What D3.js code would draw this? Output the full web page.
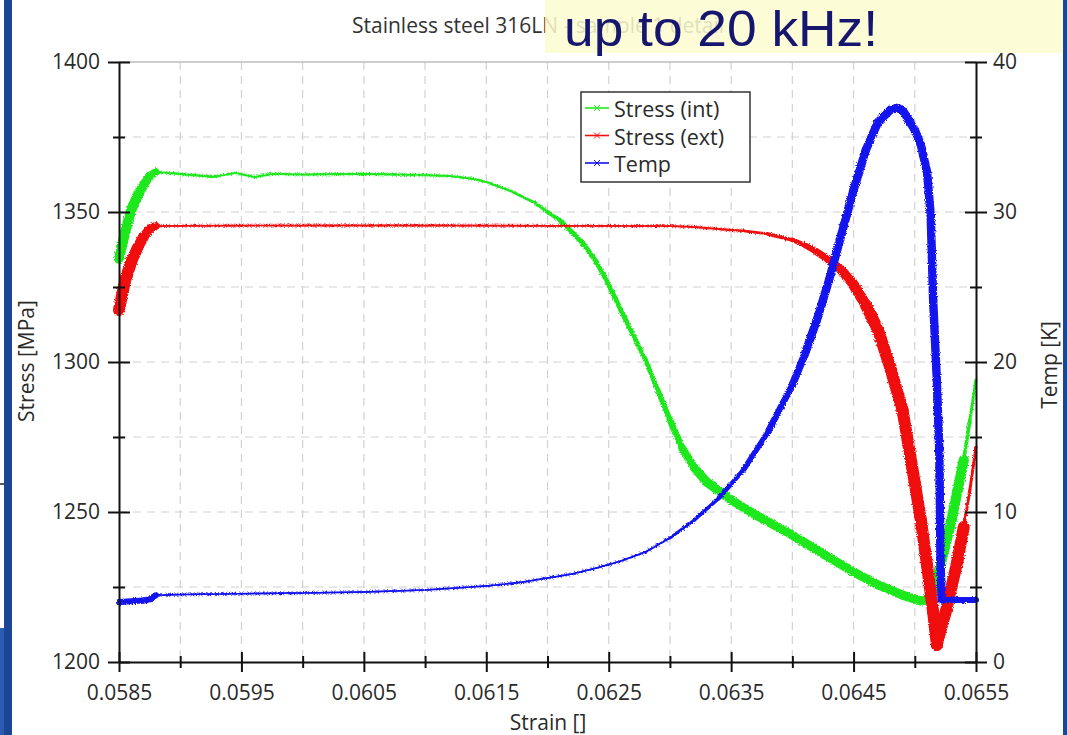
<!DOCTYPE html>
<html><head><meta charset="utf-8">
<script src="https://cdn.jsdelivr.net/npm/d3@7"></script>
<style>
body{margin:0;background:#fff;}
svg{display:block;font-family:'Open Sans','Noto Sans',sans-serif;}
</style>
</head><body>
<svg id="c" width="1067" height="735"></svg>
<script>
// ---------- data ----------
const chartTitle = "Stainless steel 316LN - sample 1 detail";
const banner = "up to 20 kHz!";
const xLabel = "Strain []";
const yLeftLabel = "Stress [MPa]";
const yRightLabel = "Temp [K]";
const seriesNames = ["Stress (int)", "Stress (ext)", "Temp"];

const xMajorTicks = [0.0585, 0.0595, 0.0605, 0.0615, 0.0625, 0.0635, 0.0645, 0.0655];
const xTickLabels = ["0.0585", "0.0595", "0.0605", "0.0615", "0.0625", "0.0635", "0.0645", "0.0655"];
const xMinorTicks = [0.0590, 0.0600, 0.0610, 0.0620, 0.0630, 0.0640, 0.0650];
const yLeftMajor = [1200, 1250, 1300, 1350, 1400];
const yLeftMinor = [1225, 1275, 1325, 1375];
const yRightMajor = [0, 10, 20, 30, 40];
const yRightMinor = [5, 15, 25, 35];

// Stress (int) : strain, center value [MPa], oscillation half-amplitude per segment [MPa]
const strainInt = [0.05850,0.05855,0.05860,0.05865,0.05870,0.05875,0.05880,0.05900,0.05927,0.05945,0.05961,0.05975,0.06000,0.06050,0.06100,0.06120,0.06140,0.06150,0.06170,0.06190,0.06200,0.06210,0.06220,0.06230,0.06240,0.06250,0.06260,0.06270,0.06280,0.06290,0.06300,0.06310,0.06320,0.06330,0.06350,0.06370,0.06400,0.06420,0.06450,0.06470,0.06490,0.06500,0.06505,0.06510,0.06515,0.06520,0.06525,0.06530,0.06535,0.06540,0.06545,0.06550];
const stressInt = [1334.5,1343.3,1350.7,1355.3,1359.0,1362.0,1363.3,1362.7,1361.7,1363.0,1361.7,1362.7,1362.5,1362.7,1362.3,1362.0,1361.0,1360.0,1357.0,1353.0,1350.0,1347.3,1343.3,1339.0,1333.3,1325.7,1317.3,1309.0,1300.7,1290.7,1280.7,1271.3,1264.7,1260.0,1254.0,1249.0,1242.3,1237.3,1230.0,1225.7,1222.3,1221.0,1220.3,1220.7,1224.0,1230.7,1239.0,1247.3,1257.3,1267.3,1280.7,1294.0];
const ampInt = [1.7,1.7,1.7,1.6,1.5,1.3,0.35,0.35,0.35,0.35,0.35,0.35,0.35,0.35,0.35,0.35,0.35,0.35,0.45,0.55,0.65,0.75,0.8,0.8,0.8,0.8,0.8,0.8,0.8,0.9,1.1,1.3,1.5,1.5,1.5,1.5,1.5,1.5,1.5,1.5,1.5,1.5,1.5,1.7,1.7,1.7,1.7,1.7,1.7,0.6,0.5,0.5];

// Stress (ext)
const strainExt = [0.05850,0.05855,0.05860,0.05865,0.05870,0.05875,0.05880,0.05900,0.06000,0.06100,0.06200,0.06300,0.06320,0.06340,0.06360,0.06380,0.06400,0.06410,0.06420,0.06430,0.06440,0.06450,0.06460,0.06470,0.06480,0.06490,0.06500,0.06505,0.06510,0.06515,0.06518,0.06520,0.06525,0.06530,0.06535,0.06540,0.06545,0.06550];
const stressExt = [1317.3,1327.3,1333.3,1338.0,1341.7,1344.3,1345.3,1345.4,1345.5,1345.5,1345.4,1345.3,1345.0,1344.3,1343.7,1342.7,1340.7,1339.0,1336.7,1334.0,1330.7,1325.7,1319.0,1310.7,1298.0,1284.0,1259.7,1247.3,1232.3,1216.7,1205.7,1209.0,1216.3,1225.0,1234.0,1245.0,1257.3,1271.7];
const ampExt = [2.0,2.0,1.9,1.8,1.6,1.3,0.3,0.3,0.3,0.3,0.3,0.3,0.3,0.35,0.45,0.6,0.8,1.0,1.2,1.4,1.6,1.8,2.0,2.0,2.0,2.0,2.0,2.0,2.0,2.0,2.0,2.0,2.0,2.0,2.0,0.5,0.5,0.5];

// Temp [K]
const strainTemp = [0.05850,0.05870,0.05876,0.05880,0.05900,0.06000,0.06050,0.06100,0.06150,0.06180,0.06200,0.06220,0.06240,0.06260,0.06280,0.06300,0.06320,0.06340,0.06360,0.06380,0.06400,0.06410,0.06420,0.06430,0.06440,0.06450,0.06460,0.06470,0.06480,0.06485,0.06490,0.06500,0.06505,0.06510,0.06513,0.06515,0.06518,0.06520,0.06521,0.06522,0.06550];
const tempVals = [4.0,4.1,4.2,4.45,4.5,4.6,4.67,4.8,5.07,5.33,5.6,5.87,6.27,6.73,7.33,8.27,9.47,10.93,12.8,15.33,18.47,20.47,22.8,25.47,28.47,31.47,34.13,36.0,36.8,36.93,36.8,35.47,34.47,32.67,29.8,24.13,18.8,14.13,6.8,4.13,4.13];
const ampTemp = [0.2,0.2,0.2,0.05,0.05,0.05,0.05,0.05,0.05,0.05,0.05,0.05,0.05,0.05,0.07,0.1,0.12,0.15,0.18,0.22,0.25,0.28,0.28,0.28,0.28,0.28,0.28,0.28,0.28,0.28,0.28,0.28,0.28,0.28,0.28,0.28,0.28,0.28,0.28,0.2,0.2];

// ---------- drawing ----------
const svg = d3.select('#c');
const W = 1067, H = 735;
const x = d3.scaleLinear().domain([0.0585, 0.0655]).range([119, 976]);
const yL = d3.scaleLinear().domain([1200, 1400]).range([662, 62]);
const yR = d3.scaleLinear().domain([0, 40]).range([662, 62]);
const colors = ["#1ee81e", "#f01010", "#1212ee"];
const txt = "#2a2a2a";

// fuzzy edge filter for the oscillating bands
const defs = svg.append('defs');
const f = defs.append('filter').attr('id', 'fuzz').attr('x', '-5%').attr('y', '-5%').attr('width', '110%').attr('height', '110%');
f.append('feTurbulence').attr('type', 'fractalNoise').attr('baseFrequency', 0.9).attr('numOctaves', 1).attr('seed', 3).attr('result', 'n');
f.append('feDisplacementMap').attr('in', 'SourceGraphic').attr('in2', 'n').attr('scale', 3.5).attr('xChannelSelector', 'R').attr('yChannelSelector', 'G');

// slide decorations
svg.append('rect').attr('x',0).attr('y',0).attr('width',W).attr('height',H).attr('fill','#fff');
svg.append('rect').attr('x',0).attr('y',628).attr('width',5).attr('height',H-628).attr('fill','#2b5cb0');
svg.append('line').attr('x1',0).attr('x2',5).attr('y1',484).attr('y2',484).attr('stroke','#222').attr('stroke-width',1.5);
svg.append('rect').attr('x',4).attr('y',0).attr('width',8).attr('height',H).attr('fill','#1b4596');
svg.append('rect').attr('x',1063).attr('y',0).attr('width',4).attr('height',H).attr('fill','#1b4596');

// grid
const grid = svg.append('g');
const xGrid = xMinorTicks.concat(xMajorTicks.slice(1, -1));
grid.selectAll(null).data(xGrid).join('line')
  .attr('x1', d => x(d)).attr('x2', d => x(d)).attr('y1', yL(1400)).attr('y2', yL(1200))
  .attr('stroke', '#d2d2d2').attr('stroke-width', 1.2).attr('stroke-dasharray', '8,6');
const yGrid = yLeftMinor.concat(yLeftMajor.slice(1, -1));
grid.selectAll(null).data(yGrid).join('line')
  .attr('y1', d => yL(d)).attr('y2', d => yL(d)).attr('x1', x(0.0585)).attr('x2', x(0.0655))
  .attr('stroke', '#d2d2d2').attr('stroke-width', 1.2).attr('stroke-dasharray', '8,6');
grid.append('line').attr('x1', x(0.0585)).attr('x2', x(0.0655)).attr('y1', yL(1400)).attr('y2', yL(1400))
  .attr('stroke', '#bdbdbd').attr('stroke-width', 1.5);

// series
function drawSeries(strain, vals, amps, ys, color) {
  const g = svg.append('g');
  const segs = d3.range(strain.length - 1).map(i => ({
    x1: x(strain[i]), y1: ys(vals[i]), x2: x(strain[i + 1]), y2: ys(vals[i + 1]),
    w: Math.max(1.6, Math.abs(ys(0) - ys(2 * amps[i])))
  }));
  g.append('g').attr('filter', 'url(#fuzz)').selectAll(null).data(segs).join('line')
    .attr('x1', d => d.x1).attr('y1', d => d.y1).attr('x2', d => d.x2).attr('y2', d => d.y2)
    .attr('stroke', color).attr('stroke-width', d => d.w).attr('stroke-linecap', 'round');
  const line = d3.line().x((d, i) => x(strain[i])).y(d => ys(d));
  g.append('path').attr('d', line(vals)).attr('fill', 'none').attr('stroke', color).attr('stroke-width', 1.5);
  // small x markers along thin stretches
  const marks = [];
  segs.forEach(s => {
    if (s.w > 2.5) return;
    const len = Math.hypot(s.x2 - s.x1, s.y2 - s.y1);
    const n = Math.floor(len / 8);
    for (let k = 0; k < n; k++) {
      const t = (k + 0.5) / n;
      marks.push([s.x1 + (s.x2 - s.x1) * t, s.y1 + (s.y2 - s.y1) * t]);
    }
  });
  g.selectAll(null).data(marks).join('path')
    .attr('d', d => `M${d[0]-2.2},${d[1]-2.2}L${d[0]+2.2},${d[1]+2.2}M${d[0]-2.2},${d[1]+2.2}L${d[0]+2.2},${d[1]-2.2}`)
    .attr('stroke', color).attr('stroke-width', 0.9).attr('opacity', 0.75);
}
drawSeries(strainInt, stressInt, ampInt, yL, colors[0]);
drawSeries(strainExt, stressExt, ampExt, yL, colors[1]);
drawSeries(strainTemp, tempVals, ampTemp, yR, colors[2]);

// axes
const fs = '21px';
function styleAxis(g) {
  g.select('.domain').attr('stroke', '#111').attr('stroke-width', 2);
  g.selectAll('.tick line').attr('stroke', '#111').attr('stroke-width', 2);
  g.selectAll('.tick text').attr('fill', txt).style('font-size', fs).style('font-family', "'Open Sans',sans-serif");
}
const axB = svg.append('g').attr('transform', `translate(0,${yL(1200)})`)
  .call(d3.axisBottom(x).tickValues(xMajorTicks).tickFormat((d, i) => xTickLabels[i]).tickSize(10).tickSizeOuter(0).tickPadding(13));
axB.selectAll('.tick line').attr('y1', -10);
styleAxis(axB);
const axBm = svg.append('g').attr('transform', `translate(0,${yL(1200)})`)
  .call(d3.axisBottom(x).tickValues(xMinorTicks).tickFormat('').tickSize(6).tickSizeOuter(0));
axBm.select('.domain').remove();
axBm.selectAll('.tick line').attr('y1', -6).attr('stroke', '#111').attr('stroke-width', 2);

const axL = svg.append('g').attr('transform', `translate(${x(0.0585)},0)`)
  .call(d3.axisLeft(yL).tickValues(yLeftMajor).tickFormat(d3.format('d')).tickSize(11).tickSizeOuter(0).tickPadding(8));
axL.selectAll('.tick line').attr('x1', 11);
styleAxis(axL);
const axLm = svg.append('g').attr('transform', `translate(${x(0.0585)},0)`)
  .call(d3.axisLeft(yL).tickValues(yLeftMinor).tickFormat('').tickSize(6).tickSizeOuter(0));
axLm.select('.domain').remove();
axLm.selectAll('.tick line').attr('x1', 6).attr('stroke', '#111').attr('stroke-width', 2);

const axR = svg.append('g').attr('transform', `translate(${x(0.0655)},0)`)
  .call(d3.axisRight(yR).tickValues(yRightMajor).tickFormat(d3.format('d')).tickSize(11).tickSizeOuter(0).tickPadding(6));
axR.selectAll('.tick line').attr('x1', -11);
styleAxis(axR);
const axRm = svg.append('g').attr('transform', `translate(${x(0.0655)},0)`)
  .call(d3.axisRight(yR).tickValues(yRightMinor).tickFormat('').tickSize(6).tickSizeOuter(0));
axRm.select('.domain').remove();
axRm.selectAll('.tick line').attr('x1', -6).attr('stroke', '#111').attr('stroke-width', 2);

// axis titles
svg.append('text').attr('x', 548).attr('y', 730).attr('text-anchor', 'middle')
  .attr('fill', txt).style('font-size', fs).text(xLabel);
svg.append('text').attr('transform', 'translate(34,361) rotate(-90)').attr('text-anchor', 'middle')
  .attr('fill', txt).style('font-size', fs).text(yLeftLabel);
svg.append('text').attr('transform', 'translate(1057,365) rotate(-90)').attr('text-anchor', 'middle')
  .attr('fill', txt).style('font-size', fs).text(yRightLabel);

// legend
const lg = svg.append('g');
lg.append('rect').attr('x', 581).attr('y', 92).attr('width', 169).attr('height', 90)
  .attr('fill', '#fff').attr('stroke', '#333').attr('stroke-width', 1.5);
const rows = lg.selectAll(null).data(seriesNames).join('g')
  .attr('transform', (d, i) => `translate(0,${117 + i * 27.5})`);
rows.append('line').attr('x1', 585).attr('x2', 609).attr('y1', -9).attr('y2', -9)
  .attr('stroke', (d, i) => colors[i]).attr('stroke-width', 1.6);
rows.append('path').attr('d', 'M594,-12L600,-6M594,-6L600,-12')
  .attr('stroke', (d, i) => colors[i]).attr('stroke-width', 1);
rows.append('text').attr('x', 614).attr('y', 0).attr('fill', txt).style('font-size', '21.5px').text(d => d);

// title and banner (banner partly covers the title, as in the slide)
svg.append('text').attr('x', 352).attr('y', 33).attr('fill', '#333').style('font-size', '21px').text(chartTitle);
svg.append('rect').attr('x', 545).attr('y', 0).attr('width', 518).attr('height', 53)
  .attr('fill', '#fbfbd0').attr('opacity', 0.86);
svg.append('text').attr('x', 564).attr('y', 46).attr('fill', '#16166e')
  .attr('textLength', 314).attr('lengthAdjust', 'spacingAndGlyphs')
  .style('font-family', "'Liberation Sans',Arial,sans-serif").style('font-size', '50px').text(banner);
</script>
</body></html>
